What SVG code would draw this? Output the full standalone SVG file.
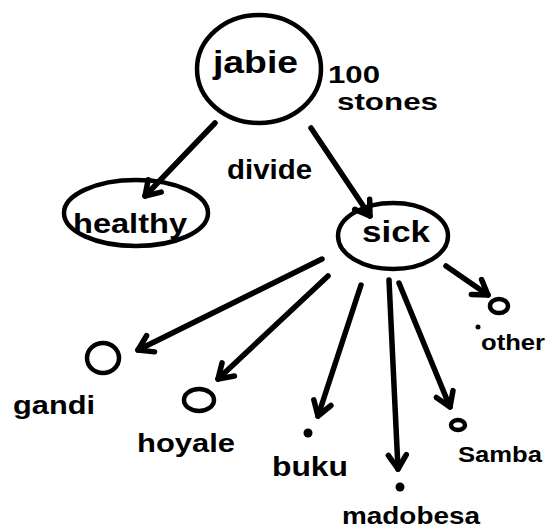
<svg xmlns="http://www.w3.org/2000/svg" width="548" height="531" viewBox="0 0 548 531">
<style>
.n{fill:none;stroke:#000;stroke-width:4.5}
.d{fill:#000}
.c{fill:none;stroke:#000;stroke-width:5.5;stroke-linecap:round}
text{font-family:"Liberation Sans",Arial,sans-serif;font-weight:bold;fill:#000}
</style>
<defs>
<marker id="ah" markerUnits="userSpaceOnUse" viewBox="-18 -12 22 24" markerWidth="22" markerHeight="24" refX="0" refY="0" orient="auto">
<path d="M-14,-9 L0,0 L-14,9" fill="none" stroke="#000" stroke-width="5.5" stroke-linejoin="round" stroke-linecap="round"/>
</marker>
</defs>
<rect width="548" height="531" fill="#fff"/>
<g id="connectors">
<line class="c" x1="215" y1="123" x2="145" y2="196" marker-end="url(#ah)"/>
<line class="c" x1="311" y1="128" x2="370" y2="216" marker-end="url(#ah)"/>
<line class="c" x1="322" y1="259" x2="138" y2="350" marker-end="url(#ah)"/>
<line class="c" x1="328" y1="276" x2="218" y2="379" marker-end="url(#ah)"/>
<line class="c" x1="361" y1="285" x2="318" y2="416" marker-end="url(#ah)"/>
<line class="c" x1="389" y1="280" x2="398" y2="469" marker-end="url(#ah)"/>
<line class="c" x1="399" y1="283" x2="450" y2="407" marker-end="url(#ah)"/>
<line class="c" x1="446" y1="266" x2="488" y2="295" marker-end="url(#ah)"/>
<text x="227" y="179" font-size="28" textLength="85" lengthAdjust="spacingAndGlyphs">divide</text>
</g>
<g id="jabie">
<ellipse class="n" cx="259" cy="69" rx="62" ry="54"/>
<text x="213" y="73" font-size="32" textLength="85" lengthAdjust="spacingAndGlyphs">jabie</text>
<text x="328" y="83" font-size="23" textLength="52" lengthAdjust="spacingAndGlyphs">100</text>
<text x="337" y="110" font-size="23" textLength="101" lengthAdjust="spacingAndGlyphs">stones</text>
</g>
<g id="healthy">
<ellipse class="n" cx="136" cy="213" rx="72" ry="33"/>
<text x="73" y="233" font-size="28" textLength="114" lengthAdjust="spacingAndGlyphs">healthy</text>
</g>
<g id="sick">
<ellipse class="n" cx="393" cy="236" rx="55" ry="33"/>
<text x="362" y="242" font-size="30" textLength="68" lengthAdjust="spacingAndGlyphs">sick</text>
</g>
<g id="gandi">
<ellipse class="n" cx="103" cy="358" rx="16" ry="15"/>
<text x="13" y="414" font-size="26" textLength="82" lengthAdjust="spacingAndGlyphs">gandi</text>
</g>
<g id="hoyale">
<ellipse class="n" cx="199" cy="400" rx="15" ry="11"/>
<text x="137" y="452" font-size="26" textLength="98" lengthAdjust="spacingAndGlyphs">hoyale</text>
</g>
<g id="buku">
<circle class="d" cx="308" cy="433" r="4.5"/>
<text x="272" y="476" font-size="28" textLength="76" lengthAdjust="spacingAndGlyphs">buku</text>
</g>
<g id="madobesa">
<circle class="d" cx="400" cy="487" r="4.5"/>
<text x="342" y="524" font-size="24" textLength="138" lengthAdjust="spacingAndGlyphs">madobesa</text>
</g>
<g id="samba">
<ellipse class="n" cx="458" cy="425" rx="7" ry="5" stroke-width="4"/>
<text x="458" y="462" font-size="22" textLength="84" lengthAdjust="spacingAndGlyphs">Samba</text>
</g>
<g id="other">
<ellipse class="n" cx="499" cy="306" rx="9" ry="7" stroke-width="4"/>
<circle class="d" cx="478" cy="327" r="2.5"/>
<text x="481" y="350" font-size="22" textLength="64" lengthAdjust="spacingAndGlyphs">other</text>
</g>
</svg>
